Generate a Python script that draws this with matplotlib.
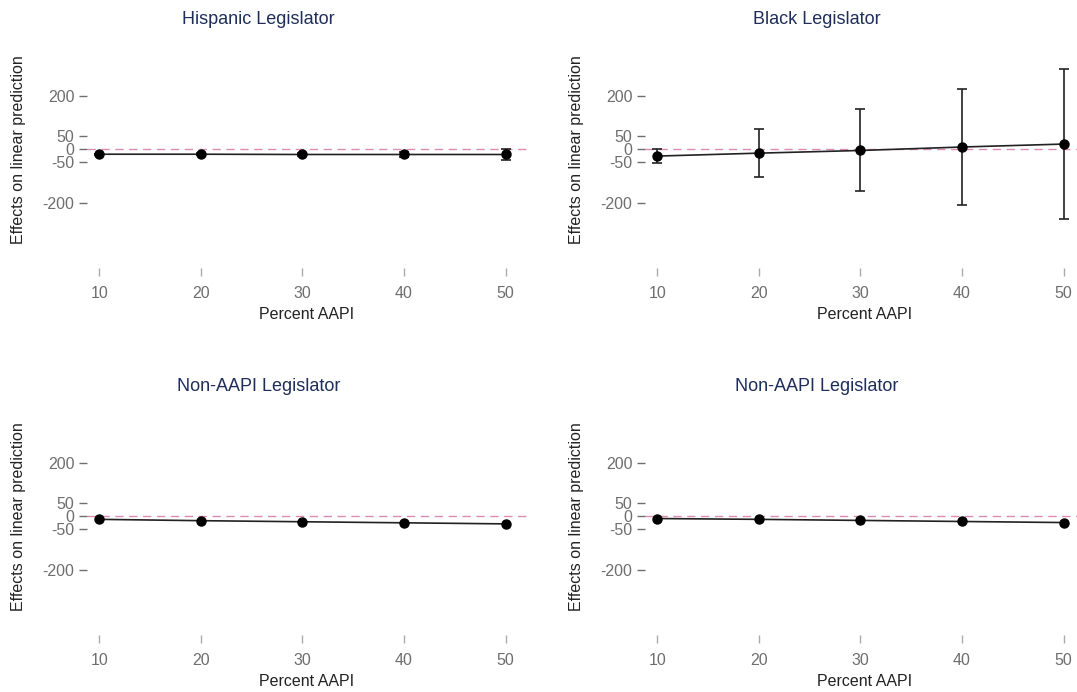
import numpy as np
import matplotlib.pyplot as plt

plt.rcParams['font.family'] = ['Liberation Sans', 'DejaVu Sans']
plt.rcParams['axes.unicode_minus'] = False

# Percent AAPI levels
pct_aapi = [10, 20, 30, 40, 50]

# Panel titles
titles = ["Hispanic Legislator", "Black Legislator",
          "Non-AAPI Legislator", "Non-AAPI Legislator"]

# Point estimates (effects on linear prediction)
hispanic = [-19, -19, -20, -20, -20]
black = [-26, -15, -5, 8, 19]
nonaapi_left = [-12, -17, -21, -25, -29]
nonaapi_right = [-9, -12, -16, -20, -24]

# Confidence intervals
hispanic_lo = [-21, -22, -25, -31, -41]
hispanic_hi = [-17, -16, -15, -9, 1]
black_lo = [-53, -105, -158, -208, -261]
black_hi = [0, 74, 150, 226, 300]

yticks = [-200, -50, 0, 50, 200]
xticks = [10, 20, 30, 40, 50]

TICK_GRAY = "#6e6e6e"
TITLE_COLOR = "#1e2d5a"
REF_COLOR = "#dc8cb4"


def style_axis(ax, title):
    for s in ax.spines.values():
        s.set_visible(False)
    ax.set_xlim(8.8, 52.1)
    ax.set_ylim(-445, 330)
    ax.set_xticks(xticks)
    ax.set_yticks(yticks)
    ax.tick_params(axis="y", direction="out", length=6, width=1,
                   color=TICK_GRAY, labelcolor=TICK_GRAY, labelsize=11.5, pad=3)
    ax.tick_params(axis="x", direction="out", length=6, width=1,
                   color="#aaaaaa", labelcolor=TICK_GRAY, labelsize=11.5, pad=7)
    ax.set_xlabel("Percent AAPI", fontsize=11.5, color="#222222", labelpad=4)
    ax.set_ylabel("Effects on linear prediction", fontsize=11.5, color="#222222")
    ax.yaxis.set_label_coords(-0.139, 0.57)
    ax.set_title(title, fontsize=13, color=TITLE_COLOR, x=0.39, y=1.14)
    ax.axhline(0, color=REF_COLOR, lw=1.0, ls=(0, (6, 4)), zorder=1)


def plot_series(ax, y, lo=None, hi=None):
    y = np.array(y)
    if lo is not None:
        err = [y - np.array(lo), np.array(hi) - y]
        ax.errorbar(pct_aapi, y, yerr=err, fmt="none", ecolor="#222222",
                    elinewidth=1.2, capsize=3.5, capthick=1.2, zorder=2)
    ax.plot(pct_aapi, y, color="#222222", lw=1.2, marker="o",
            markersize=6.5, markerfacecolor="black", markeredgecolor="black",
            zorder=3)


fig = plt.figure(figsize=(10.77, 6.92), dpi=100)
W, H = 1077, 692
ax_w = 440 / W
ax_h = 207 / H
positions = [
    (87 / W, 1 - 268 / H),
    (645 / W, 1 - 268 / H),
    (87 / W, 1 - 635 / H),
    (645 / W, 1 - 635 / H),
]
axes = [fig.add_axes([x0, y0, ax_w, ax_h]) for x0, y0 in positions]

plot_series(axes[0], hispanic, hispanic_lo, hispanic_hi)
plot_series(axes[1], black, black_lo, black_hi)
plot_series(axes[2], nonaapi_left)
plot_series(axes[3], nonaapi_right)

for ax, t in zip(axes, titles):
    style_axis(ax, t)

fig.savefig("out.png", dpi=100, facecolor="white")
